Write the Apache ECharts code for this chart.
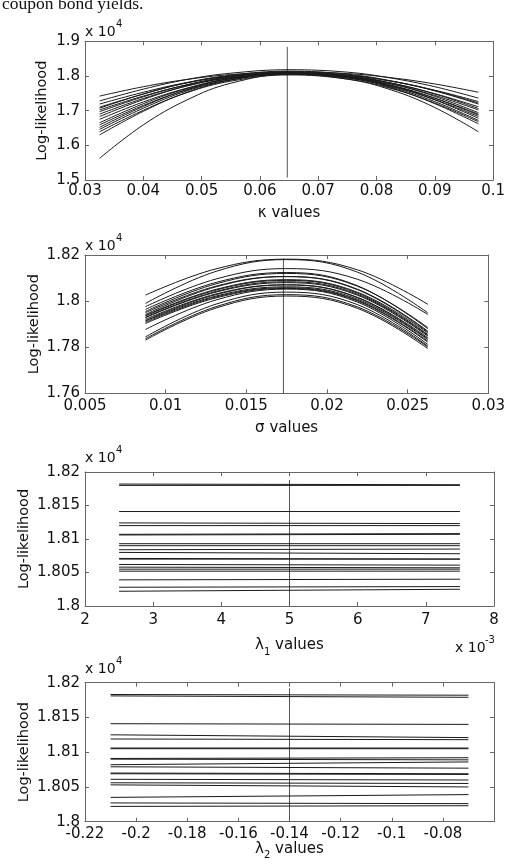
<!DOCTYPE html>
<html><head><meta charset="utf-8">
<script src="https://cdn.jsdelivr.net/npm/echarts@6/dist/echarts.min.js"></script>
<style>html,body{margin:0;padding:0;background:#fff}#c{width:508px;height:868px}</style>
</head><body><div id="c"></div>
<script>
// ---------- data (log-likelihood values in units of 10^4) ----------
const kappaX = [0.0325, 0.04, 0.0475, 0.055, 0.065, 0.075, 0.0825, 0.09, 0.0975];
const kappaCurves = [
  [1.742, 1.769, 1.790, 1.804, 1.812, 1.807, 1.795, 1.777, 1.753],
  [1.728, 1.762, 1.790, 1.808, 1.818, 1.811, 1.794, 1.769, 1.736],
  [1.719, 1.753, 1.781, 1.799, 1.809, 1.802, 1.785, 1.759, 1.726],
  [1.710, 1.748, 1.780, 1.800, 1.811, 1.803, 1.785, 1.758, 1.722],
  [1.707, 1.748, 1.781, 1.802, 1.814, 1.805, 1.786, 1.757, 1.719],
  [1.702, 1.742, 1.774, 1.795, 1.807, 1.798, 1.779, 1.749, 1.711],
  [1.697, 1.740, 1.775, 1.798, 1.810, 1.801, 1.780, 1.748, 1.706],
  [1.690, 1.735, 1.771, 1.795, 1.808, 1.798, 1.777, 1.744, 1.702],
  [1.683, 1.732, 1.772, 1.798, 1.812, 1.801, 1.778, 1.741, 1.694],
  [1.675, 1.725, 1.765, 1.792, 1.806, 1.796, 1.772, 1.736, 1.690],
  [1.665, 1.720, 1.764, 1.793, 1.809, 1.798, 1.774, 1.736, 1.687],
  [1.659, 1.715, 1.760, 1.789, 1.805, 1.794, 1.770, 1.732, 1.683],
  [1.652, 1.712, 1.761, 1.793, 1.810, 1.798, 1.772, 1.731, 1.678],
  [1.646, 1.707, 1.757, 1.789, 1.807, 1.795, 1.768, 1.726, 1.672],
  [1.639, 1.701, 1.752, 1.785, 1.803, 1.791, 1.764, 1.722, 1.668],
  [1.630, 1.698, 1.753, 1.788, 1.808, 1.795, 1.766, 1.720, 1.662],
  [1.5625, 1.659, 1.731, 1.779, 1.805, 1.791, 1.760, 1.709, 1.639]
];
const kappaEstimate = 0.0647;
const kappaMarkRange = [1.507, 1.884];

const sigmaX = [0.00875, 0.013125, 0.0175, 0.021875, 0.02625];
const sigmaCurves = [
  [1.8026, 1.8140, 1.8182, 1.8136, 1.7986],
  [1.7990, 1.8129, 1.8180, 1.8126, 1.7949],
  [1.7976, 1.8096, 1.8141, 1.8095, 1.7942],
  [1.7964, 1.8081, 1.8124, 1.8067, 1.7880],
  [1.7955, 1.8075, 1.8120, 1.8065, 1.7885],
  [1.7950, 1.8065, 1.8107, 1.8052, 1.7870],
  [1.7942, 1.8062, 1.8106, 1.8050, 1.7866],
  [1.7938, 1.8051, 1.8093, 1.8039, 1.7862],
  [1.7935, 1.8048, 1.8090, 1.8035, 1.7855],
  [1.7930, 1.8042, 1.8084, 1.8030, 1.7852],
  [1.7928, 1.8039, 1.8080, 1.8026, 1.7848],
  [1.7921, 1.8031, 1.8071, 1.8017, 1.7841],
  [1.7916, 1.8028, 1.8070, 1.8015, 1.7836],
  [1.7913, 1.8022, 1.8062, 1.8009, 1.7833],
  [1.7908, 1.8018, 1.8058, 1.8004, 1.7826],
  [1.7903, 1.8014, 1.8055, 1.8001, 1.7822],
  [1.7877, 1.8005, 1.8052, 1.7996, 1.7812],
  [1.7845, 1.7987, 1.8039, 1.7985, 1.7805],
  [1.7837, 1.7976, 1.8028, 1.7975, 1.7801],
  [1.7831, 1.7970, 1.8022, 1.7969, 1.7794]
];
const sigmaEstimate = 0.0173;
const sigmaMarkRange = [1.76, 1.8185];

const lambda1X = [2.5, 7.5]; // units of 10^-3
const lambda1Lines = [
  [1.8182, 1.8181], [1.8180, 1.8180], [1.8141, 1.8141], [1.8124, 1.8123],
  [1.8120, 1.8120], [1.8107, 1.8108], [1.8106, 1.8107], [1.8093, 1.8093],
  [1.8090, 1.8090], [1.8084, 1.8085], [1.8080, 1.8078], [1.8071, 1.8070],
  [1.8070, 1.8070], [1.8062, 1.8061], [1.8058, 1.8057], [1.8055, 1.8055],
  [1.8052, 1.8052], [1.8039, 1.8040], [1.8028, 1.8029], [1.8022, 1.8025]
];
const lambda1Estimate = 5;
const lambda1MarkRange = [1.80, 1.8188];

const lambda2X = [-0.21, -0.07];
const lambda2Lines = [
  [1.8183, 1.8182], [1.8181, 1.8179], [1.8141, 1.8140], [1.8125, 1.8121],
  [1.8119, 1.8118], [1.8106, 1.8106], [1.8105, 1.8105], [1.8091, 1.8092],
  [1.8090, 1.8089], [1.8082, 1.8086], [1.8079, 1.8077], [1.8070, 1.8069],
  [1.8069, 1.8068], [1.8061, 1.8060], [1.8056, 1.8055], [1.8053, 1.8050],
  [1.8035, 1.8039], [1.8027, 1.8026], [1.8022, 1.8023]
];
const lambda2Estimate = -0.14;
const lambda2MarkRange = [1.80, 1.8192];

// axis ranges [min, max, interval]
const xRanges = [[0.03, 0.1, 0.01], [0.005, 0.03, 0.005], [2, 8, 1], [-0.22, -0.06, 0.02]];
const yRanges = [[1.5, 1.9, 0.1], [1.76, 1.82, 0.02], [1.8, 1.82, 0.005], [1.8, 1.82, 0.005]];
const xNames = ['κ values', 'σ values', '{m|λ}{s|1}{m| values}', '{m|λ}{s|2}{m| values}'];

// ---------- layout ----------
const FONT = 'DejaVu Sans';
const grids = [
  {left: 85, width: 409, top: 41.3, height: 138.7},
  {left: 85, width: 409, top: 255, height: 138.3},
  {left: 85, width: 409, top: 472, height: 134},
  {left: 85, width: 409, top: 682.7, height: 139}
];
const yNameGap = [35, 43, 53, 53];
const xNameGap = [26, 27, 27, 15];
const xLabelMargin = [4, 5, 7, 5];
const frame = '#666';
const rich = {
  m: {fontFamily: FONT, fontSize: 15, color: '#111', lineHeight: 24},
  s: {fontFamily: FONT, fontSize: 10, color: '#111', verticalAlign: 'bottom', lineHeight: 10}
};

const xAxis = [], yAxis = [], series = [];
grids.forEach((g, i) => {
  const [x0, x1, xi] = xRanges[i];
  const [y0, y1, yi] = yRanges[i];
  const common = {type: 'value', gridIndex: i, splitLine: {show: false}, nameMoveOverlap: false,
    axisLine: {show: true, onZero: false, lineStyle: {color: frame, width: 1}},
    axisTick: {show: true, inside: true, length: 4, lineStyle: {color: frame}}};
  xAxis.push(Object.assign({}, common, {min: x0, max: x1, interval: xi, position: 'bottom',
    name: xNames[i], nameLocation: 'middle', nameGap: xNameGap[i],
    nameTextStyle: {fontFamily: FONT, fontSize: 15, color: '#111', rich: rich},
    axisLabel: {fontFamily: FONT, fontSize: 15, color: '#111', margin: xLabelMargin[i],
      showMinLabel: true, showMaxLabel: i !== 3}}));
  xAxis.push(Object.assign({}, common, {min: x0, max: x1, interval: xi, position: 'top',
    axisLabel: {show: false}}));
  yAxis.push(Object.assign({}, common, {min: y0, max: y1, interval: yi, position: 'left',
    name: 'Log-likelihood', nameLocation: 'middle', nameGap: yNameGap[i],
    nameTextStyle: {fontFamily: FONT, fontSize: 14.5, color: '#111'},
    axisLabel: {fontFamily: FONT, fontSize: 15, color: '#111', margin: 5}}));
  yAxis.push(Object.assign({}, common, {min: y0, max: y1, interval: yi, position: 'right',
    axisLabel: {show: false}}));
});

function addCurves(i, xs, curves, smooth) {
  curves.forEach(ys => series.push({
    type: 'line', xAxisIndex: 2 * i, yAxisIndex: 2 * i,
    data: xs.map((x, j) => [x, ys[j]]), smooth: smooth, symbol: 'none',
    lineStyle: {color: '#1a1a1a', width: 1}, silent: true, animation: false, z: 3
  }));
}
function addMark(i, x, range) {
  series.push({type: 'line', xAxisIndex: 2 * i, yAxisIndex: 2 * i,
    data: [[x, range[0]], [x, range[1]]], symbol: 'none',
    lineStyle: {color: '#555', width: 1}, silent: true, animation: false, z: 2});
}
addCurves(0, kappaX, kappaCurves, 0.4); addMark(0, kappaEstimate, kappaMarkRange);
addCurves(1, sigmaX, sigmaCurves, 0.4); addMark(1, sigmaEstimate, sigmaMarkRange);
addCurves(2, lambda1X, lambda1Lines, false); addMark(2, lambda1Estimate, lambda1MarkRange);
addCurves(3, lambda2X, lambda2Lines, false); addMark(3, lambda2Estimate, lambda2MarkRange);

// exponent notes
const expTops = [25.5, 239, 451.5, 662];
const graphic = [{type: 'text', left: 2, top: -5,
  style: {text: 'coupon bond yields.', font: '17.5px "Liberation Serif", serif', fill: '#111'}}];
expTops.forEach(t => {
  graphic.push({type: 'text', left: 85, top: t, style: {text: 'x 10', font: '14px "DejaVu Sans"', fill: '#111'}});
  graphic.push({type: 'text', left: 116, top: t - 6, style: {text: '4', font: '10px "DejaVu Sans"', fill: '#111'}});
});
graphic.push({type: 'text', left: 455, top: 641.5, style: {text: 'x 10', font: '14px "DejaVu Sans"', fill: '#111'}});
graphic.push({type: 'text', left: 485, top: 635.5, style: {text: '-3', font: '10px "DejaVu Sans"', fill: '#111'}});

const chart = echarts.init(document.getElementById('c'), null, {renderer: 'canvas'});
chart.setOption({animation: false, backgroundColor: '#fff', grid: grids, xAxis, yAxis, series, graphic});
</script></body></html>
